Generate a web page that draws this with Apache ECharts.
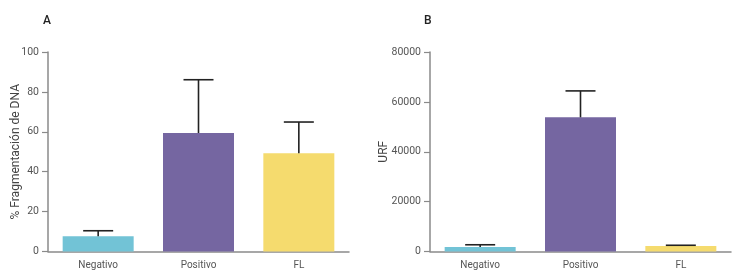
<!DOCTYPE html>
<html>
<head>
<meta charset="utf-8">
<script src="https://cdn.jsdelivr.net/npm/echarts@6/dist/echarts.min.js"></script>
<style>
  html, body { margin: 0; padding: 0; background: #fff; }
  #chart { width: 737px; height: 279px; }
</style>
</head>
<body>
<div id="chart"></div>
<script>
// categories shared by both panels
var categories = ['Negativo', 'Positivo', 'FL'];
var barColors = ['#72C3D6', '#7566A1', '#F5DB6E'];

// panel A: % fragmentación de DNA (mean, mean + error)
var fragMean = [7.6, 59.4, 49.2];
var fragUpper = [10.4, 86.1, 64.9];

// panel B: URF
var urfMean = [1800, 53800, 2200];
var urfUpper = [2700, 64400, 2500];

var axisGrey = '#8a8a8a';
var labelGrey = '#555';
var fontFamily = 'Roboto, "Noto Sans", sans-serif';

function errorData(means, uppers) {
    return means.map(function (m, i) { return [i, m, uppers[i]]; });
}

function renderError(params, api) {
    var base = api.coord([api.value(0), api.value(1)]);
    var top = api.coord([api.value(0), api.value(2)]);
    var half = 15;
    var style = { stroke: '#222', lineWidth: 1.6 };
    return {
        type: 'group',
        children: [
            { type: 'line', shape: { x1: base[0], y1: base[1], x2: top[0], y2: top[1] }, style: style },
            { type: 'line', shape: { x1: top[0] - half, y1: top[1], x2: top[0] + half, y2: top[1] }, style: style }
        ]
    };
}

function xAxisFor(gridIndex) {
    return {
        type: 'category',
        gridIndex: gridIndex,
        data: categories,
        axisLine: { lineStyle: { color: axisGrey, width: 1.5 } },
        axisTick: { alignWithLabel: true, length: 5, lineStyle: { color: axisGrey, width: 1.2 } },
        axisLabel: { color: labelGrey, fontSize: 10, fontFamily: fontFamily, margin: 9 }
    };
}

function yAxisFor(gridIndex, max, interval, name, nameGap) {
    return {
        type: 'value',
        gridIndex: gridIndex,
        min: 0,
        max: max,
        interval: interval,
        name: name,
        nameLocation: 'middle',
        nameGap: nameGap,
        nameMoveOverlap: false,
        nameTextStyle: { color: '#444', fontSize: 12, fontFamily: fontFamily },
        splitLine: { show: false },
        axisLine: { show: true, lineStyle: { color: axisGrey, width: 1.5 } },
        axisTick: { show: true, length: 6, lineStyle: { color: axisGrey, width: 1.2 } },
        axisLabel: {
            color: labelGrey, fontSize: 10.5, fontFamily: fontFamily, margin: 9,
            formatter: function (v) { return String(v); }
        }
    };
}

var chart = echarts.init(document.getElementById('chart'), null, { renderer: 'canvas' });

chart.setOption({
    animation: false,
    backgroundColor: '#fff',
    title: [
        { text: 'A', left: 38, top: 10, textStyle: { fontSize: 12, fontWeight: 500, color: '#222', fontFamily: fontFamily } },
        { text: 'B', left: 419, top: 10, textStyle: { fontSize: 12, fontWeight: 500, color: '#222', fontFamily: fontFamily } }
    ],
    grid: [
        { left: 48, top: 52, width: 301, height: 199.5 },
        { left: 430, top: 52, width: 301, height: 199.5 }
    ],
    xAxis: [xAxisFor(0), xAxisFor(1)],
    yAxis: [
        yAxisFor(0, 100, 20, '% Fragmentación de DNA', 26),
        yAxisFor(1, 80000, 20000, 'URF', 40)
    ],
    series: [
        {
            type: 'bar', xAxisIndex: 0, yAxisIndex: 0, barWidth: 71,
            data: fragMean.map(function (v, i) { return { value: v, itemStyle: { color: barColors[i] } }; })
        },
        {
            type: 'custom', xAxisIndex: 0, yAxisIndex: 0, z: 3,
            renderItem: renderError, data: errorData(fragMean, fragUpper)
        },
        {
            type: 'bar', xAxisIndex: 1, yAxisIndex: 1, barWidth: 71,
            data: urfMean.map(function (v, i) { return { value: v, itemStyle: { color: barColors[i] } }; })
        },
        {
            type: 'custom', xAxisIndex: 1, yAxisIndex: 1, z: 3,
            renderItem: renderError, data: errorData(urfMean, urfUpper)
        }
    ]
});
</script>
</body>
</html>
